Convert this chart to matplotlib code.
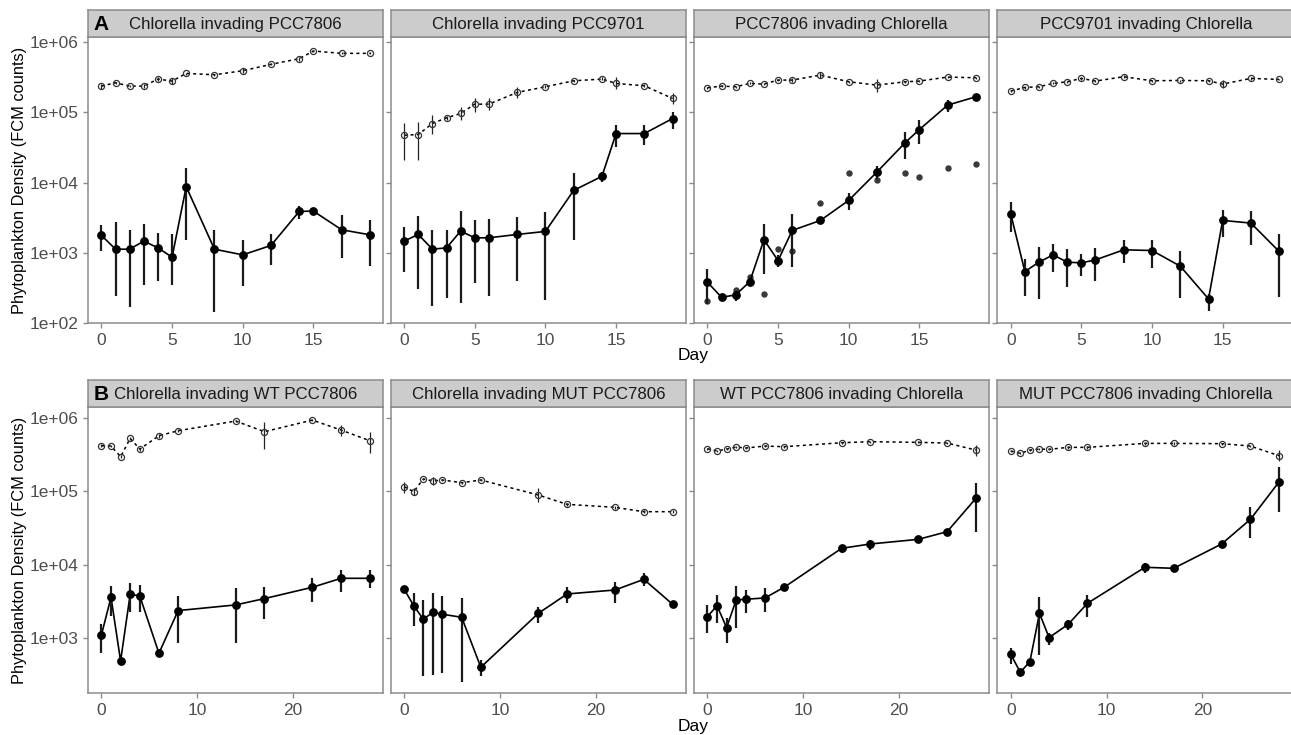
import numpy as np
import matplotlib
matplotlib.use("Agg")
import matplotlib.pyplot as plt

plt.rcParams['font.family'] = ['Liberation Sans', 'DejaVu Sans']

# ---- data (log10 of FCM counts) ----
days_top = [0, 1, 2, 3, 4, 5, 6, 8, 10, 12, 14, 15, 17, 19]
days_bot = [0, 1, 2, 3, 4, 6, 8, 14, 17, 22, 25, 28]

titles_top = ["Chlorella invading PCC7806", "Chlorella invading PCC9701",
              "PCC7806 invading Chlorella", "PCC9701 invading Chlorella"]
titles_bot = ["Chlorella invading WT PCC7806", "Chlorella invading MUT PCC7806",
              "WT PCC7806 invading Chlorella", "MUT PCC7806 invading Chlorella"]

# row A
a1_open = [5.376, 5.424, 5.376, 5.376, 5.476, 5.448, 5.557, 5.538, 5.595, 5.686, 5.767, 5.876, 5.843, 5.843]
a1_open_lo = [5.34, 5.41, 5.36, 5.35, 5.45, 5.41, 5.54, 5.52, 5.56, 5.67, 5.74, 5.86, 5.83, 5.83]
a1_open_hi = [5.41, 5.44, 5.39, 5.40, 5.50, 5.49, 5.57, 5.55, 5.63, 5.70, 5.79, 5.89, 5.86, 5.86]
a1_fill = [3.248, 3.052, 3.052, 3.167, 3.071, 2.938, 3.943, 3.052, 2.971, 3.105, 3.590, 3.595, 3.329, 3.257]
a1_fill_lo = [3.024, 2.39, 2.224, 2.548, 2.595, 2.548, 3.186, 2.152, 2.533, 2.829, 3.486, 3.57, 2.929, 2.819]
a1_fill_hi = [3.39, 3.433, 3.319, 3.405, 3.286, 3.271, 4.21, 3.319, 3.19, 3.271, 3.667, 3.62, 3.533, 3.462]

a2_open = [4.676, 4.686, 4.843, 4.924, 4.986, 5.119, 5.119, 5.286, 5.367, 5.452, 5.476, 5.414, 5.381, 5.2]
a2_open_lo = [4.319, 4.319, 4.70, 4.90, 4.89, 5.01, 5.03, 5.2, 5.35, 5.43, 5.46, 5.33, 5.36, 5.119]
a2_open_hi = [4.857, 4.867, 4.962, 4.95, 5.081, 5.2, 5.2, 5.357, 5.39, 5.47, 5.50, 5.5, 5.40, 5.271]
a2_fill = [3.167, 3.262, 3.052, 3.071, 3.31, 3.214, 3.214, 3.262, 3.305, 3.890, 4.09, 4.7, 4.7, 4.914]
a2_fill_lo = [2.724, 2.486, 2.248, 2.352, 2.281, 2.567, 2.39, 2.595, 2.329, 3.186, 4.01, 4.51, 4.533, 4.771]
a2_fill_hi = [3.367, 3.519, 3.319, 3.319, 3.59, 3.462, 3.486, 3.509, 3.581, 4.143, 4.152, 4.819, 4.819, 5.01]

a3_open = [5.352, 5.376, 5.367, 5.414, 5.405, 5.462, 5.462, 5.533, 5.438, 5.390, 5.438, 5.448, 5.505, 5.495]
a3_open_lo = [5.33, 5.36, 5.35, 5.40, 5.39, 5.45, 5.43, 5.486, 5.42, 5.295, 5.42, 5.43, 5.49, 5.48]
a3_open_hi = [5.37, 5.39, 5.38, 5.43, 5.42, 5.48, 5.49, 5.581, 5.45, 5.476, 5.45, 5.46, 5.52, 5.51]
a3_fill = [2.581, 2.367, 2.4, 2.59, 3.186, 2.890, 3.319, 3.462, 3.748, 4.152, 4.571, 4.757, 5.105, 5.224]
a3_fill_lo = [2.271, 2.35, 2.319, 2.533, 2.7, 2.795, 2.795, 3.44, 3.605, 4.057, 4.343, 4.548, 5.01, 5.21]
a3_fill_hi = [2.771, 2.38, 2.462, 2.652, 3.414, 2.962, 3.557, 3.48, 3.852, 4.238, 4.724, 4.89, 5.176, 5.24]
# single replicate points shown as small grey dots
a3_extra_days = [0, 2, 3, 4, 5, 6, 8, 10, 12, 14, 15, 17, 19]
a3_extra = [2.319, 2.471, 2.652, 2.414, 3.057, 3.019, 3.714, 4.138, 4.033, 4.143, 4.081, 4.214, 4.271]

a4_open = [5.305, 5.357, 5.367, 5.414, 5.438, 5.486, 5.448, 5.510, 5.452, 5.457, 5.452, 5.405, 5.486, 5.471]
a4_open_lo = [5.29, 5.34, 5.35, 5.40, 5.42, 5.47, 5.43, 5.49, 5.44, 5.44, 5.44, 5.343, 5.47, 5.46]
a4_open_hi = [5.32, 5.37, 5.38, 5.43, 5.45, 5.50, 5.46, 5.53, 5.46, 5.47, 5.46, 5.462, 5.50, 5.48]
a4_fill = [3.557, 2.733, 2.867, 2.971, 2.867, 2.857, 2.9, 3.043, 3.033, 2.81, 2.343, 3.462, 3.424, 3.019]
a4_fill_lo = [3.295, 2.39, 2.343, 2.724, 2.51, 2.676, 2.605, 2.857, 2.786, 2.357, 2.176, 3.224, 3.105, 2.376]
a4_fill_hi = [3.724, 2.914, 3.09, 3.129, 3.057, 2.986, 3.071, 3.176, 3.19, 3.033, 2.414, 3.614, 3.595, 3.271]

# row B
b1_open = [5.619, 5.615, 5.47, 5.719, 5.574, 5.755, 5.823, 5.955, 5.81, 5.968, 5.832, 5.687]
b1_open_lo = [5.60, 5.60, 5.45, 5.70, 5.55, 5.73, 5.81, 5.94, 5.57, 5.95, 5.751, 5.515]
b1_open_hi = [5.64, 5.63, 5.49, 5.74, 5.59, 5.78, 5.84, 5.97, 5.946, 5.98, 5.9, 5.81]
b1_fill = [3.046, 3.558, 2.692, 3.599, 3.576, 2.797, 3.377, 3.454, 3.540, 3.694, 3.816, 3.816]
b1_fill_lo = [2.797, 3.304, 2.68, 3.363, 3.354, 2.78, 2.941, 2.933, 3.259, 3.499, 3.635, 3.68]
b1_fill_hi = [3.195, 3.712, 2.70, 3.748, 3.725, 2.81, 3.576, 3.68, 3.703, 3.825, 3.93, 3.93]

b2_open = [5.062, 4.994, 5.166, 5.139, 5.153, 5.116, 5.153, 4.949, 4.822, 4.781, 4.722, 4.722]
b2_open_lo = [4.98, 4.95, 5.15, 5.085, 5.14, 5.10, 5.14, 4.858, 4.80, 4.76, 4.71, 4.71]
b2_open_hi = [5.13, 5.04, 5.18, 5.198, 5.17, 5.13, 5.17, 5.04, 4.84, 4.80, 4.74, 4.74]
b2_fill = [3.667, 3.444, 3.259, 3.354, 3.327, 3.286, 2.606, 3.34, 3.603, 3.657, 3.802, 3.463]
b2_fill_lo = [3.65, 3.168, 2.489, 2.502, 2.525, 2.411, 2.489, 3.213, 3.476, 3.485, 3.712, 3.45]
b2_fill_hi = [3.68, 3.612, 3.521, 3.612, 3.576, 3.544, 2.706, 3.431, 3.703, 3.771, 3.884, 3.48]

b3_open = [5.579, 5.547, 5.574, 5.601, 5.588, 5.615, 5.606, 5.66, 5.674, 5.665, 5.656, 5.56]
b3_open_lo = [5.565, 5.53, 5.56, 5.585, 5.57, 5.60, 5.59, 5.645, 5.66, 5.65, 5.64, 5.479]
b3_open_hi = [5.595, 5.56, 5.59, 5.615, 5.60, 5.63, 5.62, 5.675, 5.69, 5.68, 5.67, 5.628]
b3_fill = [3.295, 3.444, 3.145, 3.522, 3.531, 3.549, 3.694, 4.224, 4.283, 4.346, 4.45, 4.903]
b3_fill_lo = [3.068, 3.213, 2.933, 3.136, 3.34, 3.363, 3.68, 4.165, 4.201, 4.33, 4.43, 4.45]
b3_fill_hi = [3.454, 3.589, 3.272, 3.712, 3.657, 3.68, 3.71, 4.269, 4.337, 4.36, 4.47, 5.116]

b4_open = [5.547, 5.515, 5.56, 5.574, 5.57, 5.597, 5.597, 5.651, 5.651, 5.647, 5.615, 5.483]
b4_open_lo = [5.535, 5.50, 5.545, 5.56, 5.555, 5.58, 5.58, 5.635, 5.635, 5.63, 5.60, 5.415]
b4_open_hi = [5.56, 5.53, 5.575, 5.59, 5.585, 5.61, 5.61, 5.665, 5.665, 5.66, 5.63, 5.56]
b4_fill = [2.783, 2.538, 2.683, 3.34, 3.009, 3.191, 3.476, 3.966, 3.952, 4.283, 4.618, 5.13]
b4_fill_lo = [2.651, 2.53, 2.67, 2.774, 2.91, 3.114, 3.295, 3.893, 3.94, 4.27, 4.36, 4.722]
b4_fill_hi = [2.874, 2.55, 2.695, 3.567, 3.068, 3.25, 3.589, 4.029, 3.965, 4.295, 4.79, 5.334]

top_panels = [
    (a1_open, a1_open_lo, a1_open_hi, a1_fill, a1_fill_lo, a1_fill_hi),
    (a2_open, a2_open_lo, a2_open_hi, a2_fill, a2_fill_lo, a2_fill_hi),
    (a3_open, a3_open_lo, a3_open_hi, a3_fill, a3_fill_lo, a3_fill_hi),
    (a4_open, a4_open_lo, a4_open_hi, a4_fill, a4_fill_lo, a4_fill_hi),
]
bot_panels = [
    (b1_open, b1_open_lo, b1_open_hi, b1_fill, b1_fill_lo, b1_fill_hi),
    (b2_open, b2_open_lo, b2_open_hi, b2_fill, b2_fill_lo, b2_fill_hi),
    (b3_open, b3_open_lo, b3_open_hi, b3_fill, b3_fill_lo, b3_fill_hi),
    (b4_open, b4_open_lo, b4_open_hi, b4_fill, b4_fill_lo, b4_fill_hi),
]

# ---- layout (pixels) ----
W, H = 1291, 735
BORDER = '#8c8c8c'
TICKLAB = '#4d4d4d'
panel_left = [88, 390.7, 694, 997.3]
panel_w = 295.3
X_PER_DAY = None  # x range is set per row below


def px_axes(fig, x0, y0, x1, y1):
    """Add an axes from pixel box (top-left origin)."""
    return fig.add_axes([x0 / W, 1 - y1 / H, (x1 - x0) / W, (y1 - y0) / H])


def draw_panel(ax, days, vals, xlim, ylim):
    opn, opn_lo, opn_hi, fil, fil_lo, fil_hi = [10 ** np.array(v) for v in vals]
    # resident (open circles, dashed)
    ax.plot(days, opn, color='black', lw=1.1, ls=(0, (2.0, 2.2)), zorder=2)
    ax.vlines(days, opn_lo, opn_hi, color='#222222', lw=0.9, zorder=3)
    ax.plot(days, opn, 'o', ms=4.4, mfc='none', mec='#333333', mew=0.9, zorder=4)
    # invader (filled, solid)
    ax.plot(days, fil, color='black', lw=1.2, zorder=2)
    ax.vlines(days, fil_lo, fil_hi, color='#1a1a1a', lw=1.6, zorder=3)
    ax.plot(days, fil, 'o', ms=5.3, color='black', zorder=4)

    ax.set_yscale('log')
    ax.set_xlim(*xlim)
    ax.set_ylim(*ylim)
    ax.minorticks_off()
    for s in ax.spines.values():
        s.set_color(BORDER)
        s.set_linewidth(1.1)
    ax.tick_params(colors=BORDER, labelcolor=TICKLAB, labelsize=12.5, length=3.5, width=1)


def add_strip(fig, x0, y0, x1, y1, text, tag=None):
    sax = px_axes(fig, x0, y0, x1, y1)
    sax.set_facecolor('#cccccc')
    sax.set_xticks([])
    sax.set_yticks([])
    for s in sax.spines.values():
        s.set_color(BORDER)
        s.set_linewidth(1.1)
    sax.text(0.5, 0.45, text, ha='center', va='center', fontsize=12.2, color='#1a1a1a',
             transform=sax.transAxes)
    if tag:
        sax.text(0.018, 0.45, tag, ha='left', va='center', fontsize=15, fontweight='bold',
                 color='black', transform=sax.transAxes)


fig = plt.figure(figsize=(W / 100, H / 100), dpi=100)

rows = [
    dict(days=days_top, panels=top_panels, titles=titles_top, y0=37, y1=323, strip=10,
         xlim=(-0.95, 19.95), ylim=(1e2, 10 ** 6.076), xticks=[0, 5, 10, 15],
         yticks=[1e2, 1e3, 1e4, 1e5, 1e6], tag='A', day_y=356),
    dict(days=days_bot, panels=bot_panels, titles=titles_bot, y0=406.7, y1=693.3, strip=380,
         xlim=(-1.4, 29.4), ylim=(10 ** 2.252, 10 ** 6.15), xticks=[0, 10, 20],
         yticks=[1e3, 1e4, 1e5, 1e6], tag='B', day_y=727),
]

for row in rows:
    for i in range(4):
        x0 = panel_left[i]
        # the last column runs slightly off the right edge in the original
        w = panel_w + (2.0 if i == 3 else 0.0)
        xlim = row['xlim']
        if i == 3:
            span = xlim[1] - xlim[0]
            xlim = (xlim[0], xlim[1] + span * 2.0 / panel_w)
        ax = px_axes(fig, x0, row['y0'], x0 + w, row['y1'])
        draw_panel(ax, row['days'], row['panels'][i], xlim, row['ylim'])
        ax.set_xticks(row['xticks'])
        ax.set_xticklabels([str(t) for t in row['xticks']])
        ax.set_yticks(row['yticks'])
        if i == 0:
            ax.set_yticklabels(['1e+%02d' % int(np.log10(t)) for t in row['yticks']])
        else:
            ax.set_yticklabels([])
        if row['tag'] == 'A' and i == 2:
            ax.plot(a3_extra_days, 10 ** np.array(a3_extra), 'o', ms=3.6,
                    color='#3a3a3a', zorder=1)
        add_strip(fig, x0, row['strip'], x0 + w, row['y0'], row['titles'][i],
                  tag=row['tag'] if i == 0 else None)
    # axis titles
    fig.text(693 / W, 1 - row['day_y'] / H, 'Day', ha='center', va='center', fontsize=12.5)
    fig.text(20 / W, 1 - (row['y0'] + row['y1']) / 2 / H,
             'Phytoplankton Density (FCM counts)', rotation=90, ha='center', va='center',
             fontsize=11.8)

fig.savefig('out.png', dpi=100)
